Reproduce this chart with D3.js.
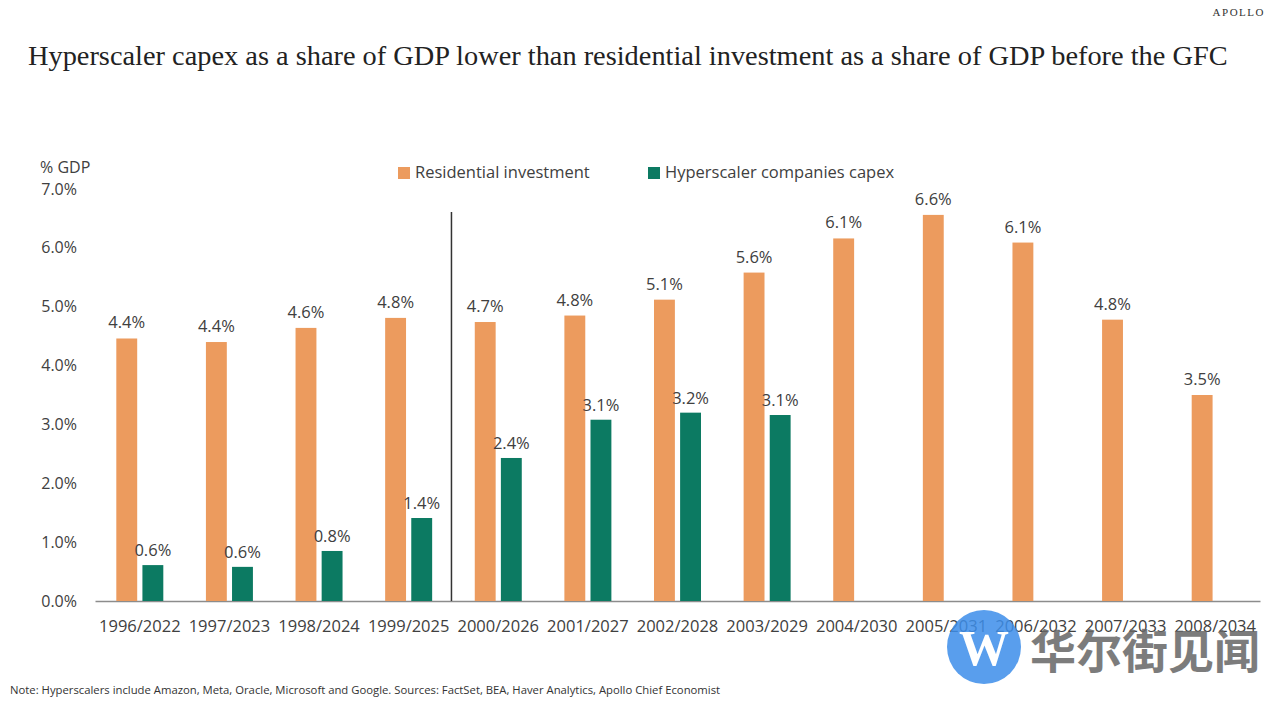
<!DOCTYPE html>
<html>
<head>
<meta charset="utf-8">
<script src="https://cdn.jsdelivr.net/npm/d3@7"></script>
<style>
  body { margin: 0; background: #fff; }
  svg { display: block; }
</style>
</head>
<body>
<div id="chart"></div>
<script>
// Data
const categories = ["1996/2022", "1997/2023", "1998/2024", "1999/2025", "2000/2026",
  "2001/2027", "2002/2028", "2003/2029", "2004/2030", "2005/2031", "2006/2032",
  "2007/2033", "2008/2034"];
const residential = [4.46, 4.40, 4.64, 4.81, 4.74, 4.85, 5.12, 5.58, 6.16, 6.56, 6.09, 4.78, 3.50];
const residentialLabels = ["4.4%", "4.4%", "4.6%", "4.8%", "4.7%", "4.8%", "5.1%", "5.6%",
  "6.1%", "6.6%", "6.1%", "4.8%", "3.5%"];
const hyperscaler = [0.61, 0.58, 0.85, 1.41, 2.43, 3.08, 3.20, 3.16];
const hyperscalerLabels = ["0.6%", "0.6%", "0.8%", "1.4%", "2.4%", "3.1%", "3.2%", "3.1%"];
const seriesNames = ["Residential investment", "Hyperscaler companies capex"];
const yTicks = [0, 1, 2, 3, 4, 5, 6, 7];

// Constants
const width = 1280;
const height = 705;
const colors = ["#EC9B5E", "#0C7A62"];
const sans = "'Open Sans', 'Noto Sans', sans-serif";
const textColor = "#404040";

const svg = d3.select("#chart").append("svg")
  .attr("width", width)
  .attr("height", height);

//-----------------------------SCALES-----------------------------//
const x0 = d3.scaleBand().domain(categories).range([95, 1260]).padding(0);
const groupW = 47;
const x1 = d3.scaleBand().domain(seriesNames)
  .range([(x0.bandwidth() - groupW) / 2, (x0.bandwidth() + groupW) / 2])
  .paddingInner(0.2);
const y = d3.scaleLinear().domain([0, 7]).range([601, 189]);

//-----------------------------TITLE-----------------------------//
svg.append("text")
  .attr("x", 1265).attr("y", 16)
  .attr("text-anchor", "end")
  .style("font-family", "'Liberation Serif', serif")
  .style("font-size", "11px")
  .style("letter-spacing", "1.5px")
  .style("fill", "#333")
  .text("APOLLO");

const title = svg.append("text")
  .attr("x", 28).attr("y", 65)
  .style("font-family", "'Liberation Serif', 'DejaVu Serif', serif")
  .style("font-size", "27px")
  .style("fill", "#222")
  .text("Hyperscaler capex as a share of GDP lower than residential investment as a share of GDP before the GFC");
// fit the title to the width seen in the picture
const tw = title.node().getComputedTextLength();
title.style("font-size", (27 * 1200 / tw).toFixed(2) + "px");

//-----------------------------AXES-----------------------------//
svg.append("text")
  .attr("x", 40).attr("y", 173)
  .style("font-family", sans).style("font-size", "16px").style("fill", textColor)
  .text("% GDP");

const yAxis = d3.axisLeft(y).tickValues(yTicks)
  .tickFormat(d => d.toFixed(1) + "%").tickSize(0).tickPadding(0);
const gy = svg.append("g").attr("transform", "translate(77,0)").call(yAxis);
gy.select(".domain").remove();
gy.selectAll("text")
  .style("font-family", sans).style("font-size", "16px").style("fill", textColor);

const xAxis = d3.axisBottom(x0).tickSize(0).tickPadding(19);
const gx = svg.append("g").attr("transform", "translate(0,601)").call(xAxis);
gx.select(".domain").attr("stroke", "#8c8c8c").attr("stroke-width", 1.5);
gx.selectAll("text")
  .style("font-family", sans).style("font-size", "16.5px").style("fill", textColor);

// divider between past and future years
const divX = x0(categories[4]) - 2;
svg.append("line")
  .attr("x1", divX).attr("x2", divX)
  .attr("y1", 212).attr("y2", y(0))
  .attr("stroke", "#333").attr("stroke-width", 1.5);

//-----------------------------BARS-----------------------------//
const resData = categories.map((c, i) => ({ cat: c, v: residential[i], label: residentialLabels[i] }));
const hypData = hyperscaler.map((v, i) => ({ cat: categories[i], v: v, label: hyperscalerLabels[i] }));

const labelStyle = sel => sel
  .attr("text-anchor", "middle")
  .style("font-family", sans).style("font-size", "16.5px").style("fill", textColor);

svg.append("g").selectAll("rect").data(resData).enter().append("rect")
  .attr("x", d => x0(d.cat) + x1(seriesNames[0]))
  .attr("y", d => y(d.v))
  .attr("width", x1.bandwidth())
  .attr("height", d => y(0) - y(d.v))
  .attr("fill", colors[0]);

svg.append("g").selectAll("rect").data(hypData).enter().append("rect")
  .attr("x", d => x0(d.cat) + x1(seriesNames[1]))
  .attr("y", d => y(d.v))
  .attr("width", x1.bandwidth())
  .attr("height", d => y(0) - y(d.v))
  .attr("fill", colors[1]);

svg.append("g").selectAll("text").data(hypData).enter().append("text")
  .attr("x", d => x0(d.cat) + x1(seriesNames[1]) + x1.bandwidth() / 2)
  .attr("y", d => y(d.v) - 9)
  .call(labelStyle)
  .text(d => d.label);

svg.append("g").selectAll("text").data(resData).enter().append("text")
  .attr("x", d => x0(d.cat) + x1(seriesNames[0]) + x1.bandwidth() / 2)
  .attr("y", d => y(d.v) - 10)
  .call(labelStyle)
  .text(d => d.label);

//-----------------------------LEGEND-----------------------------//
const legendX = [398, 648];
const legend = svg.append("g").selectAll("g").data(seriesNames).enter().append("g")
  .attr("transform", (d, i) => `translate(${legendX[i]},167)`);
legend.append("rect")
  .attr("width", 12).attr("height", 12)
  .attr("fill", (d, i) => colors[i]);
legend.append("text")
  .attr("x", 17).attr("y", 11)
  .style("font-family", sans).style("font-size", "16.5px").style("fill", textColor)
  .text(d => d);

//-----------------------------NOTE-----------------------------//
svg.append("text")
  .attr("x", 10).attr("y", 694)
  .style("font-family", sans).style("font-size", "11.3px").style("fill", "#333")
  .text("Note: Hyperscalers include Amazon, Meta, Oracle, Microsoft and Google. Sources: FactSet, BEA, Haver Analytics, Apollo Chief Economist");

//---------------------------WATERMARK---------------------------//
const wm = svg.append("g").attr("opacity", 0.85);
wm.append("circle").attr("cx", 984).attr("cy", 647).attr("r", 37).attr("fill", "#3D8EEA");
wm.append("text")
  .attr("x", 984).attr("y", 665)
  .attr("text-anchor", "middle")
  .style("font-family", "'Liberation Serif', serif")
  .style("font-size", "50px").style("font-weight", "bold")
  .style("fill", "#fff")
  .text("W");
wm.append("text")
  .attr("x", 1030).attr("y", 668)
  .style("font-family", "'Noto Sans CJK SC', sans-serif")
  .style("font-size", "46px").style("font-weight", "bold")
  .style("fill", "#666")
  .text("华尔街见闻");
</script>
</body>
</html>
